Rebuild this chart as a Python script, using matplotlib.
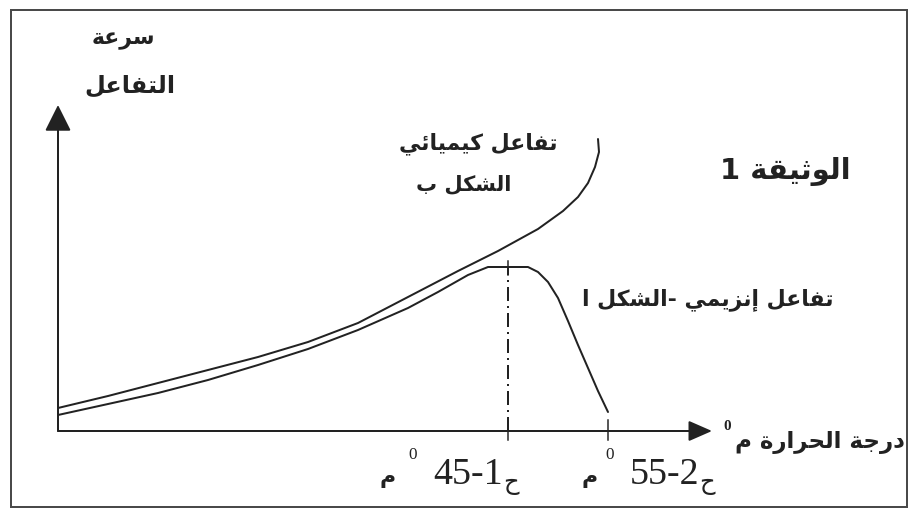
import numpy as np
import matplotlib
matplotlib.use("Agg")
import matplotlib.pyplot as plt
from matplotlib.patches import Rectangle

# temperature (deg C) / reaction rate (arbitrary units)
enz_temp = [0, 5, 10, 15, 20, 25, 30, 35, 38, 41, 43, 47, 48, 49, 50, 51, 52, 53, 54, 55]
enz_rate = [1.6, 2.7, 3.8, 5.1, 6.6, 8.2, 10.1, 12.3, 13.9, 15.6, 16.4, 16.4,
            15.9, 14.9, 13.3, 11.0, 8.6, 6.3, 4.0, 1.9]
chem_temp = [0, 5, 10, 15, 20, 25, 30, 35, 40, 44, 48, 50.5, 52, 53, 53.7, 54.1, 54.0]
chem_rate = [2.3, 3.5, 4.8, 6.1, 7.4, 8.9, 10.8, 13.4, 16.0, 18.0, 20.2, 22.0, 23.4,
             24.8, 26.4, 27.9, 29.2]
opt_temp = 45     # ح1
max_temp = 55     # ح2
peak_rate = 16.4
tick_labels = ["45-1", "55-2"]

# minimal arabic shaping (matplotlib has no bidi / joining)
FORMS = {
    'ء': (0xFE80,), 'أ': (0xFE83, 0xFE84), 'إ': (0xFE87, 0xFE88),
    'ئ': (0xFE89, 0xFE8A, 0xFE8B, 0xFE8C), 'ا': (0xFE8D, 0xFE8E),
    'ب': (0xFE8F, 0xFE90, 0xFE91, 0xFE92), 'ة': (0xFE93, 0xFE94),
    'ت': (0xFE95, 0xFE96, 0xFE97, 0xFE98), 'ث': (0xFE99, 0xFE9A, 0xFE9B, 0xFE9C),
    'ج': (0xFE9D, 0xFE9E, 0xFE9F, 0xFEA0), 'ح': (0xFEA1, 0xFEA2, 0xFEA3, 0xFEA4),
    'د': (0xFEA9, 0xFEAA), 'ر': (0xFEAD, 0xFEAE), 'ز': (0xFEAF, 0xFEB0),
    'س': (0xFEB1, 0xFEB2, 0xFEB3, 0xFEB4), 'ش': (0xFEB5, 0xFEB6, 0xFEB7, 0xFEB8),
    'ع': (0xFEC9, 0xFECA, 0xFECB, 0xFECC), 'ف': (0xFED1, 0xFED2, 0xFED3, 0xFED4),
    'ق': (0xFED5, 0xFED6, 0xFED7, 0xFED8), 'ك': (0xFED9, 0xFEDA, 0xFEDB, 0xFEDC),
    'ل': (0xFEDD, 0xFEDE, 0xFEDF, 0xFEE0), 'م': (0xFEE1, 0xFEE2, 0xFEE3, 0xFEE4),
    'ن': (0xFEE5, 0xFEE6, 0xFEE7, 0xFEE8), 'و': (0xFEED, 0xFEEE),
    'ي': (0xFEF1, 0xFEF2, 0xFEF3, 0xFEF4),
}


def ar(s):
    out = []
    for i, c in enumerate(s):
        f = FORMS.get(c)
        if f is None:
            out.append(c)
            continue
        prev = s[i - 1] if i > 0 else ''
        nxt = s[i + 1] if i + 1 < len(s) else ''
        a = prev in FORMS and len(FORMS[prev]) == 4
        b = len(f) == 4 and nxt in FORMS
        k = 3 if (a and b) else 1 if a else 2 if b else 0
        out.append(chr(f[min(k, len(f) - 1)]))
    return ''.join(reversed(out))


INK = "#222222"
AR = dict(family="DejaVu Sans", weight="bold", color=INK)

fig = plt.figure(figsize=(916 / 72, 510 / 72), dpi=72)
ax = fig.add_axes([0, 0, 1, 1])
ax.set_xlim(-5.8, 85.8)
ax.set_ylim(-7.9, 43.1)
ax.axis("off")

# frame of the document
ax.add_patch(Rectangle((11 / 916, 3 / 510), 896 / 916, 497 / 510, transform=ax.transAxes,
                       fill=False, ec="#4a4a4a", lw=2))

# axes with arrows
ax.annotate("", xy=(0, 32.6), xytext=(0, 0),
            arrowprops=dict(arrowstyle="-|>,head_length=0.9,head_width=0.45",
                            mutation_scale=25, lw=2, color=INK, shrinkA=0, shrinkB=0))
ax.annotate("", xy=(65.4, 0), xytext=(0, 0),
            arrowprops=dict(arrowstyle="-|>,head_length=0.8,head_width=0.35",
                            mutation_scale=25, lw=2, color=INK, shrinkA=0, shrinkB=0))

# curves
ax.plot(chem_temp, chem_rate, color=INK, lw=2, solid_capstyle="round")
ax.plot(enz_temp, enz_rate, color=INK, lw=2, solid_capstyle="round")

# optimum marker + ticks
ax.plot([opt_temp, opt_temp], [0, peak_rate], color=INK, lw=2, ls=(0, (7, 2.5, 1, 2.5)))
ax.plot([opt_temp, opt_temp], [peak_rate - 0.8, peak_rate + 0.6], color=INK, lw=1.5)
for t in [opt_temp, max_temp]:
    ax.plot([t, t], [-0.9, 1.1], color=INK, lw=1.5)

# labels
ax.text(6.5, 39.1, ar("سرعة"), fontsize=22, ha="center", va="center", **AR)
ax.text(7.2, 34.5, ar("التفاعل"), fontsize=24, ha="center", va="center", **AR)
ax.text(49.9, 28.7, ar("تفاعل كيميائي"), fontsize=22, ha="right", va="center", **AR)
ax.text(40.6, 24.7, ar("الشكل ب"), fontsize=21, ha="center", va="center", **AR)
ax.text(72.7, 25.9, ar("الوثيقة 1"), fontsize=29, ha="center", va="center", **AR)
ax.text(77.5, 13.1, ar("تفاعل إنزيمي -الشكل ا"), fontsize=22, ha="right", va="center", **AR)
ax.text(67.7, -1.2, ar("درجة الحرارة م"), fontsize=23, ha="left", va="center", **AR)
ax.text(66.9, 0.4, "0", fontsize=15, ha="center", va="center", family="Liberation Serif",
        weight="bold", color=INK)

offs = [(-5, -120, -95), (91, -18, 2)]
for t, lab, (dx, dxm, dx0) in zip([opt_temp, max_temp], tick_labels, offs):
    ax.annotate(lab, (t, 0), xytext=(dx, -44), textcoords="offset points",
                ha="right", va="center", fontsize=38, family="Liberation Serif", color=INK)
    ax.annotate(ar("ح"), (t, 0), xytext=(dx, -52), textcoords="offset points",
                ha="left", va="center", fontsize=24, family="DejaVu Sans", color=INK)
    ax.annotate("0", (t, 0), xytext=(dx0, -24), textcoords="offset points",
                ha="center", va="center", fontsize=17, family="Liberation Serif", color=INK)
    ax.annotate(ar("م"), (t, 0), xytext=(dxm, -47), textcoords="offset points",
                ha="center", va="center", fontsize=22, **AR)

fig.savefig("out.png", dpi=72, facecolor="white")
